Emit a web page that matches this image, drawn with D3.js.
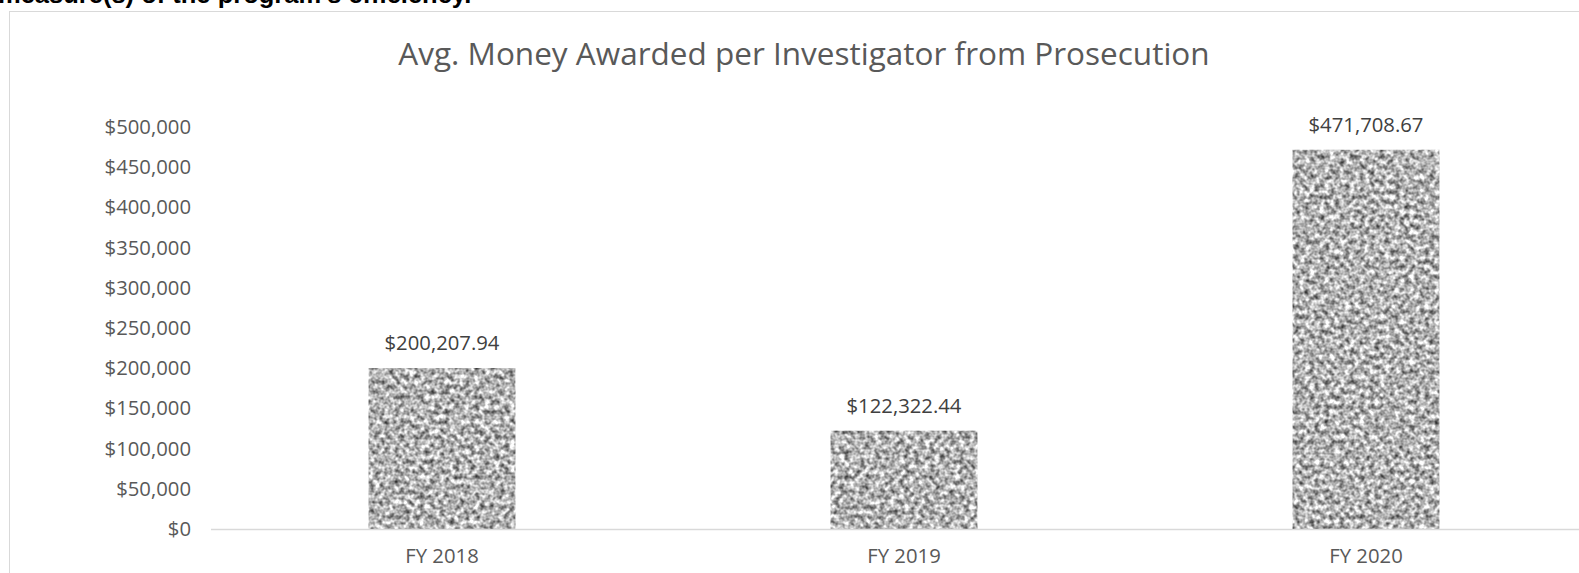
<!DOCTYPE html>
<html>
<head>
<meta charset="utf-8">
<script src="https://cdn.jsdelivr.net/npm/d3@7"></script>
<style>
  body { margin: 0; background: #fff; }
  svg { display: block; }
</style>
</head>
<body>
<svg width="1579" height="573"></svg>
<script>
var categories = ["FY 2018", "FY 2019", "FY 2020"];
var values = [200207.94, 122322.44, 471708.67];
var yTicks = [0, 50000, 100000, 150000, 200000, 250000, 300000, 350000, 400000, 450000, 500000];
var title = "Avg. Money Awarded per Investigator from Prosecution";
var pageText = "measure(s) of the program's efficiency.";

var svg = d3.select("svg"),
  width = +svg.attr("width"),
  height = +svg.attr("height");

var font = "'Open Sans', sans-serif";

// grainy grey texture used for the bars
var defs = svg.append("defs");
var filter = defs.append("filter")
  .attr("id", "noise")
  .attr("x", 0).attr("y", 0)
  .attr("width", "100%").attr("height", "100%")
  .attr("color-interpolation-filters", "sRGB");
filter.append("feTurbulence")
  .attr("type", "fractalNoise")
  .attr("baseFrequency", 0.2)
  .attr("numOctaves", 2)
  .attr("seed", 7)
  .attr("result", "t");
filter.append("feColorMatrix")
  .attr("in", "t")
  .attr("type", "matrix")
  .attr("values", "1.3 0 0 0 0.05  1.3 0 0 0 0.05  1.3 0 0 0 0.05  0 0 0 0 1")
  .attr("result", "g");
filter.append("feGaussianBlur")
  .attr("in", "g")
  .attr("stdDeviation", 0.7)
  .attr("result", "b");
filter.append("feComposite")
  .attr("in", "b")
  .attr("in2", "SourceGraphic")
  .attr("operator", "in");

// cut-off document text above the chart
svg.append("text")
  .attr("x", -2)
  .attr("y", 3)
  .style("font-family", "'Liberation Sans', Arial, sans-serif")
  .style("font-weight", "bold")
  .style("font-size", "25.5px")
  .style("fill", "#000")
  .text(pageText);

// chart frame
svg.append("rect")
  .attr("x", 9.5)
  .attr("y", 11.5)
  .attr("width", width + 20)
  .attr("height", height + 20)
  .style("fill", "#fff")
  .style("stroke", "#d9d9d9")
  .style("stroke-width", 1);

svg.append("text")
  .attr("x", 804)
  .attr("y", 65)
  .attr("text-anchor", "middle")
  .style("font-family", font)
  .style("font-size", "31.5px")
  .style("fill", "#595959")
  .text(title);

var x = d3.scaleBand()
  .domain(categories)
  .range([211, 1597])
  .paddingInner(0.682)
  .paddingOuter(0.341);

var y = d3.scaleLinear()
  .domain([0, 500000])
  .range([529, 127]);

var yAxis = svg.append("g")
  .attr("transform", "translate(211,0)")
  .call(d3.axisLeft(y).tickValues(yTicks).tickSize(0).tickPadding(20)
    .tickFormat(function(d) { return "$" + d3.format(",")(d); }));
yAxis.select(".domain").remove();
yAxis.selectAll("text")
  .style("font-family", font)
  .style("font-size", "20.3px")
  .style("fill", "#595959");

svg.append("g")
  .selectAll("rect")
  .data(values)
  .enter().append("rect")
  .attr("x", function(d, i) { return x(categories[i]); })
  .attr("y", function(d) { return y(d); })
  .attr("width", x.bandwidth())
  .attr("height", function(d) { return y(0) - y(d); })
  .style("fill", "#999")
  .attr("filter", "url(#noise)");

svg.append("line")
  .attr("x1", 211)
  .attr("x2", width)
  .attr("y1", y(0) + 0.5)
  .attr("y2", y(0) + 0.5)
  .style("stroke", "#d9d9d9")
  .style("stroke-width", 1.5);

var xAxis = svg.append("g")
  .attr("transform", "translate(0," + y(0) + ")")
  .call(d3.axisBottom(x).tickSize(0).tickPadding(20));
xAxis.select(".domain").remove();
xAxis.selectAll("text")
  .style("font-family", font)
  .style("font-size", "20.3px")
  .style("fill", "#595959");

svg.append("g")
  .selectAll("text")
  .data(values)
  .enter().append("text")
  .attr("x", function(d, i) { return x(categories[i]) + x.bandwidth() / 2; })
  .attr("y", function(d) { return y(d) - 18; })
  .attr("text-anchor", "middle")
  .style("font-family", font)
  .style("font-size", "20.3px")
  .style("fill", "#404040")
  .text(function(d) { return "$" + d3.format(",.2f")(d); });
</script>
</body>
</html>
